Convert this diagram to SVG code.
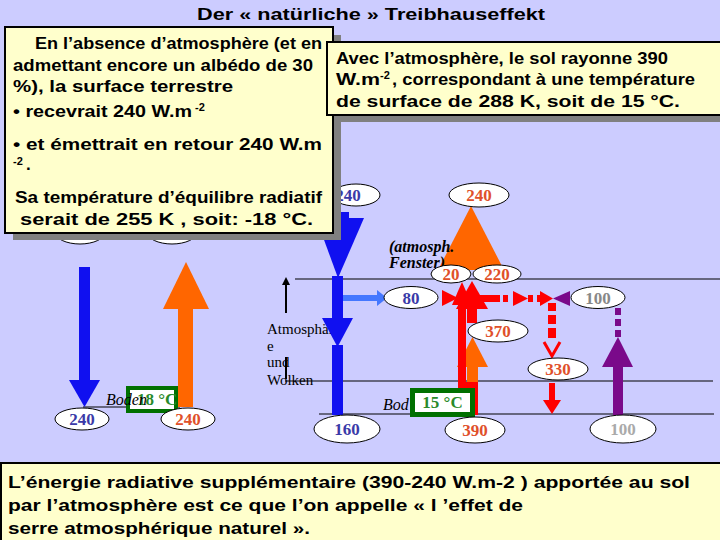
<svg xmlns="http://www.w3.org/2000/svg" width="720" height="540" viewBox="0 0 720 540">
<style>
.box{fill:#FFFFCC;stroke:#000;stroke-width:2}
.shadow{fill:#808080}
.bt{font-family:"Liberation Sans",Arial,sans-serif;font-weight:bold;font-size:17px;fill:#000}
.sup{font-family:"Liberation Sans",Arial,sans-serif;font-weight:bold;font-size:11px;fill:#000}
.ov{fill:#fff;stroke:#000;stroke-width:1}
.on{font-family:"Liberation Serif","Times New Roman",serif;font-weight:bold;font-size:17px;text-anchor:middle}
.nb{fill:#3a3aa8}.nr{fill:#e0502a}.ng{fill:#888}.nl{fill:#aaa}
.lbl{font-family:"Liberation Serif","Times New Roman",serif;font-size:15px;fill:#000}
.it{font-family:"Liberation Serif","Times New Roman",serif;font-style:italic;font-size:16px;fill:#000}
.itb{font-family:"Liberation Serif","Times New Roman",serif;font-style:italic;font-weight:bold;font-size:16px;fill:#000}
.gl{stroke:#000;stroke-width:1.2}
.blue{fill:#1010F0}.lblue{fill:#4477FF}.orange{fill:#FF6600}.red{fill:#FF0000}.purple{fill:#7A0A8A}
.tg{font-family:"Liberation Serif","Times New Roman",serif;font-weight:bold;font-size:17px;fill:#2a8a2a}
</style>
<rect width="720" height="540" fill="#CCCCFF"/>
<text id="title" class="bt" x="197" y="20" font-size="18" textLength="348" lengthAdjust="spacingAndGlyphs">Der « natürliche » Treibhauseffekt</text>

<g id="levels">
<line class="gl" x1="295" y1="279" x2="720" y2="279"/>
<line class="gl" x1="285" y1="381" x2="713" y2="381"/>
<line class="gl" x1="319" y1="414" x2="714" y2="414"/>
<line class="gl" x1="83" y1="407" x2="180" y2="407"/>
</g>

<g id="labels">
<text class="lbl" x="267" y="334">Atmosphär</text>
<text class="lbl" x="267" y="351">e</text>
<text class="lbl" x="267" y="367">und</text>
<text class="lbl" x="267" y="385">Wolken</text>
</g>

<g id="connectors">
<rect class="blue" x="79" y="267" width="11" height="114"/>
<polygon class="blue" points="69,380 100,380 84.5,407"/>
<rect class="orange" x="178" y="308" width="15" height="99"/>
<polygon class="orange" points="163,309 209,309 186,262"/>
<line x1="286" y1="313" x2="286" y2="284" stroke="#000" stroke-width="2"/>
<polygon points="282,285 290,285 286,277" fill="#000"/>
<line x1="286" y1="357" x2="286" y2="379" stroke="#000" stroke-width="2"/>
<rect class="blue" x="332" y="212" width="17" height="8"/>
<polygon class="blue" points="316,218 364,218 338,278"/>
<rect class="blue" x="332" y="276" width="11" height="44"/>
<polygon class="blue" points="322,318 353,318 337.5,347"/>
<rect class="blue" x="332" y="345" width="11" height="70"/>
<rect class="lblue" x="343" y="295" width="35" height="6"/>
<polygon class="lblue" points="377,290 387,298 377,306"/>
<polygon class="orange" points="438,270 504,270 471,206"/>
<rect class="orange" x="467" y="365" width="11" height="18"/>
<polygon class="orange" points="457,367 488,367 472.5,337"/>
<polygon class="red" points="442,290 458,298 442,306"/>
<rect class="red" x="458" y="295" width="8" height="120"/>
<rect class="red" x="458" y="382" width="20" height="33"/>
<polygon class="red" points="452,305 462,282 472,305"/>
<polygon class="red" points="456,309 488,309 472,281"/>
<rect class="red" x="467" y="307" width="10" height="16"/>
<rect class="red" x="478" y="295" width="22" height="7"/>
<rect class="red" x="503" y="295" width="5" height="7"/>
<polygon class="red" points="513,291 528,298.5 513,306"/>
<rect class="red" x="528" y="295" width="5" height="7"/>
<rect class="red" x="537" y="295" width="7" height="7"/>
<polygon class="red" points="540,291 553,298.5 540,306"/>
<rect class="red" x="548" y="303" width="8" height="8"/>
<rect class="red" x="548" y="315" width="8" height="9"/>
<rect class="red" x="548" y="328" width="8" height="10"/>
<polyline points="544,342 552,356 560,342" fill="none" stroke="#FF0000" stroke-width="3"/>
<rect class="red" x="549" y="383" width="6" height="18"/>
<polygon class="red" points="543,400 561,400 552,414"/>
<polygon class="purple" points="570,291 553,298.5 570,306"/>
<rect class="purple" x="615" y="308" width="6" height="7"/>
<rect class="purple" x="615" y="319" width="6" height="7"/>
<rect class="purple" x="615" y="330" width="6" height="7"/>
<polygon class="purple" points="602,367 633,367 618,337"/>
<rect class="purple" x="613" y="366" width="10" height="49"/>
</g>

<g id="fenster-label">
<text class="itb" x="389" y="252">(atmosph.</text>
<text class="itb" x="389" y="268">Fenster)</text>
</g>

<g id="temp-cold">
<rect x="126" y="386" width="52" height="27" fill="#007000"/>
<rect x="130" y="390" width="44" height="19" fill="#fff"/>
<text class="tg" x="137" y="405">18 °C</text>
<text class="it" x="106" y="405">Boden</text>
</g>
<g id="temp-warm">
<text class="it" x="383" y="410">Bod</text>
<rect x="410" y="388" width="65" height="29" fill="#007000"/>
<rect x="415" y="393" width="55" height="19" fill="#fff"/>
<text class="tg" x="442.5" y="408" text-anchor="middle">15 °C</text>
</g>

<g id="ov-top-l1"><ellipse class="ov" cx="80" cy="232" rx="25" ry="12"/></g>
<g id="ov-top-l2"><ellipse class="ov" cx="172" cy="232" rx="25" ry="12"/></g>
<g id="ov-sun"><ellipse class="ov" cx="356" cy="195" rx="24" ry="11"/><text class="on nb" x="348" y="201">240</text></g>
<g id="ov-out"><ellipse class="ov" cx="479" cy="195" rx="30" ry="12"/><text class="on nr" x="479" y="201">240</text></g>
<g id="ov-20"><ellipse class="ov" cx="451" cy="274" rx="20" ry="9"/><text class="on nr" x="451" y="280">20</text></g>
<g id="ov-220"><ellipse class="ov" cx="497" cy="274" rx="24" ry="9"/><text class="on nr" x="497" y="280">220</text></g>
<g id="ov-80"><ellipse class="ov" cx="411" cy="297.5" rx="27" ry="11"/><text class="on nb" x="411" y="303.5">80</text></g>
<g id="ov-100a"><ellipse class="ov" cx="598" cy="297.5" rx="27" ry="11"/><text class="on ng" x="598" y="303.5">100</text></g>
<g id="ov-370"><ellipse class="ov" cx="498" cy="331" rx="30" ry="11"/><text class="on nr" x="498" y="337">370</text></g>
<g id="ov-330"><ellipse class="ov" cx="558" cy="369" rx="30" ry="11"/><text class="on nr" x="558" y="375">330</text></g>
<g id="ov-160"><ellipse class="ov" cx="347" cy="429" rx="33" ry="14"/><text class="on nb" x="347" y="435">160</text></g>
<g id="ov-390"><ellipse class="ov" cx="475" cy="430" rx="30" ry="13"/><text class="on nr" x="475" y="436">390</text></g>
<g id="ov-100b"><ellipse class="ov" cx="623" cy="429" rx="33" ry="14"/><text class="on nl" x="623" y="435">100</text></g>
<g id="ov-240a"><ellipse class="ov" cx="82" cy="419" rx="27" ry="11"/><text class="on nb" x="82" y="425">240</text></g>
<g id="ov-240b"><ellipse class="ov" cx="188" cy="419" rx="27" ry="11"/><text class="on nr" x="188" y="425">240</text></g>

<g id="box-left">
<rect class="shadow" x="13" y="35" width="328" height="205"/>
<rect class="box" x="5" y="27" width="328" height="206"/>
<text class="bt" x="35" y="49" textLength="287" lengthAdjust="spacingAndGlyphs">En l’absence d’atmosphère (et en</text>
<text class="bt" x="13" y="71" textLength="300" lengthAdjust="spacingAndGlyphs">admettant encore un albédo de 30</text>
<text class="bt" x="13" y="92" textLength="220" lengthAdjust="spacingAndGlyphs">%), la  surface terrestre</text>
<text class="bt" x="13" y="117" textLength="179" lengthAdjust="spacingAndGlyphs">• recevrait 240 W.m</text>
<text class="sup" x="195" y="111">-2</text>
<text class="bt" x="13" y="150" textLength="309" lengthAdjust="spacingAndGlyphs">• et émettrait en retour 240  W.m</text>
<text class="sup" x="13" y="165">-2</text>
<text class="bt" x="26" y="170">.</text>
<text class="bt" x="15" y="203" textLength="307" lengthAdjust="spacingAndGlyphs">Sa température d’équilibre radiatif</text>
<text class="bt" x="20" y="225" textLength="293" lengthAdjust="spacingAndGlyphs">serait  de 255 K , soit:  -18 °C.</text>
</g>

<g id="box-right">
<rect class="shadow" x="335" y="50" width="395" height="72"/>
<rect class="box" x="327" y="42" width="395" height="73"/>
<text class="bt" x="336" y="64" textLength="332" lengthAdjust="spacingAndGlyphs">Avec l’atmosphère, le sol rayonne 390</text>
<text class="bt" x="336" y="85" textLength="44" lengthAdjust="spacingAndGlyphs">W.m</text>
<text class="sup" x="380" y="79">-2</text>
<text class="bt" x="392" y="85" textLength="303" lengthAdjust="spacingAndGlyphs">, correspondant à une température</text>
<text class="bt" x="336" y="107" textLength="344" lengthAdjust="spacingAndGlyphs">de surface de    288 K, soit de 15 °C.</text>
</g>

<g id="box-bottom">
<rect class="box" x="1" y="463" width="720" height="80"/>
<text class="bt" x="8" y="488" textLength="682" lengthAdjust="spacingAndGlyphs">L’énergie radiative supplémentaire (390-240 W.m-2 ) apportée au sol</text>
<text class="bt" x="8" y="511" textLength="515" lengthAdjust="spacingAndGlyphs">par l’atmosphère est ce que l’on appelle « l ’effet de</text>
<text class="bt" x="8" y="534" textLength="302" lengthAdjust="spacingAndGlyphs">serre atmosphérique naturel ».</text>
</g>
</svg>
